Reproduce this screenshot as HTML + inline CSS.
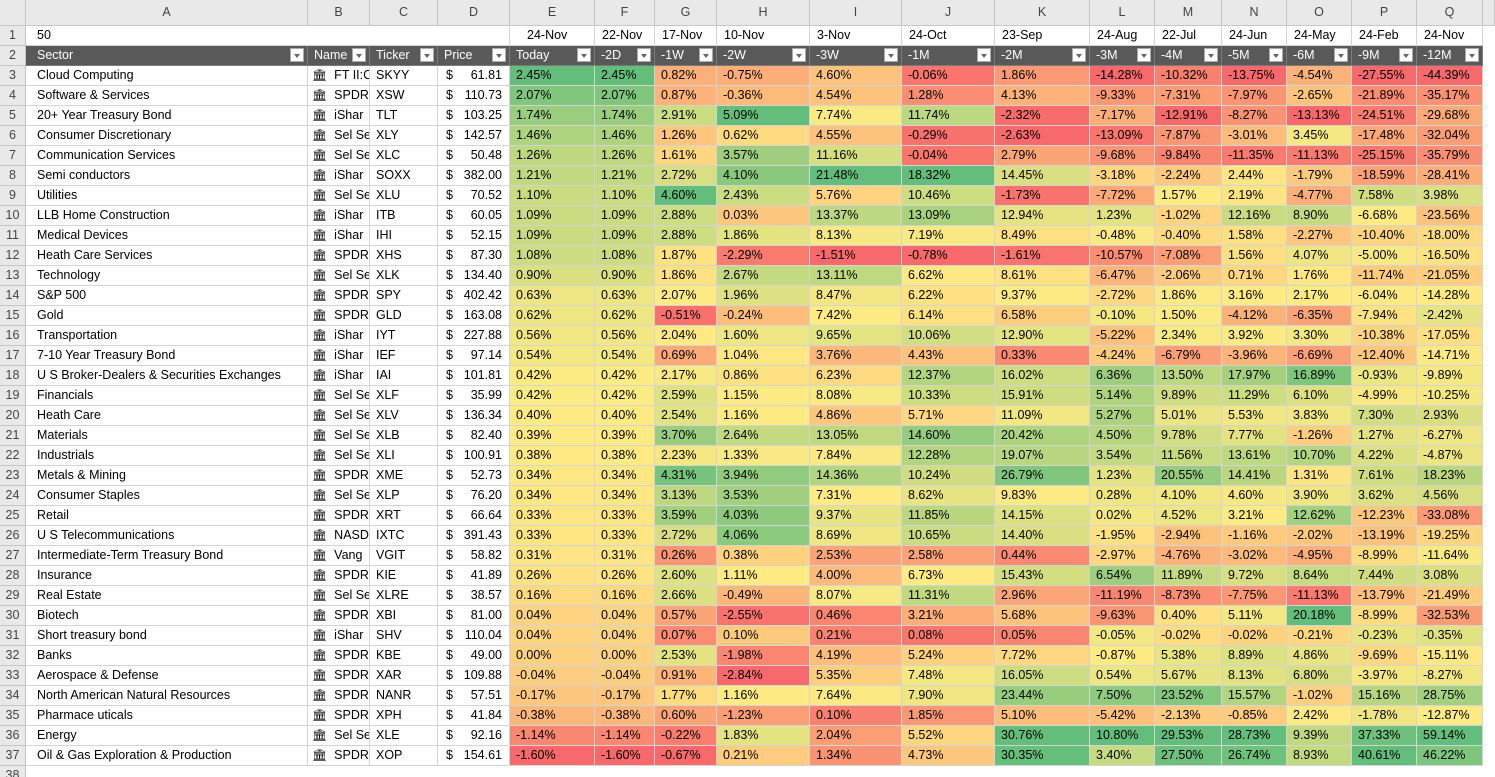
<!DOCTYPE html>
<html><head><meta charset="utf-8"><style>
html,body{margin:0;padding:0;background:#fff;width:1495px;height:777px;overflow:hidden;font-family:"Liberation Sans",Arial,sans-serif;}
#sheet{position:relative;width:1495px;height:777px;}
.c{position:absolute;box-sizing:border-box;border-right:1px solid #d4d4d4;border-bottom:1px solid #d4d4d4;font-size:12.5px;line-height:19px;white-space:nowrap;overflow:hidden;color:#000;padding:0 6px;}
.ch{background:#e9e9e9;color:#444;text-align:center;line-height:25px;font-size:12.5px;border-color:#c6c6c6;padding:0;}
.rh{background:#e9e9e9;color:#444;text-align:center;padding:0;border-color:#c6c6c6;}
.hd{background:#595959;color:#fff;border-color:#7a7a7a;}
.dd{position:absolute;right:3px;top:2px;width:14px;height:14px;background:#fff;border:1px solid #aaa;box-sizing:border-box;}
.dd:after{content:"";position:absolute;left:3px;top:5px;border-left:3.5px solid transparent;border-right:3.5px solid transparent;border-top:4px solid #666;}
</style></head><body>
<div id="sheet"></div>
<script>
const colLetters=["A","B","C","D","E","F","G","H","I","J","K","L","M","N","O","P","Q"];
const dates=["24-Nov","22-Nov","17-Nov","10-Nov","3-Nov","24-Oct","23-Sep","24-Aug","22-Jul","24-Jun","24-May","24-Feb","24-Nov"];
const headers=["Sector","Name","Ticker","Price","Today","-2D","-1W","-2W","-3W","-1M","-2M","-3M","-4M","-5M","-6M","-9M","-12M"];
const sectors=["Cloud Computing","Software & Services","20+ Year Treasury Bond","Consumer Discretionary","Communication Services","Semi conductors","Utilities","LLB Home Construction","Medical Devices","Heath Care Services","Technology","S&P 500","Gold","Transportation","7-10 Year Treasury Bond","U S Broker-Dealers & Securities Exchanges","Financials","Heath Care","Materials","Industrials","Metals & Mining","Consumer Staples","Retail","U S Telecommunications","Intermediate-Term Treasury Bond","Insurance","Real Estate","Biotech","Short treasury bond","Banks","Aerospace & Defense","North American Natural Resources","Pharmace uticals","Energy","Oil & Gas Exploration & Production"];
const names=["FT II:C","SPDR","iShar","Sel Se","Sel Se","iShar","Sel Se","iShar","iShar","SPDR","Sel Se","SPDR","SPDR","iShar","iShar","iShar","Sel Se","Sel Se","Sel Se","Sel Se","SPDR","Sel Se","SPDR","NASD","Vang","SPDR","Sel Se","SPDR","iShar","SPDR","SPDR","SPDR","SPDR","Sel Se","SPDR"];
const tickers=["SKYY","XSW","TLT","XLY","XLC","SOXX","XLU","ITB","IHI","XHS","XLK","SPY","GLD","IYT","IEF","IAI","XLF","XLV","XLB","XLI","XME","XLP","XRT","IXTC","VGIT","KIE","XLRE","XBI","SHV","KBE","XAR","NANR","XPH","XLE","XOP"];
const prices=[61.81,110.73,103.25,142.57,50.48,382.00,70.52,60.05,52.15,87.30,134.40,402.42,163.08,227.88,97.14,101.81,35.99,136.34,82.40,100.91,52.73,76.20,66.64,391.43,58.82,41.89,38.57,81.00,110.04,49.00,109.88,57.51,41.84,92.16,154.61];
const returns=[
[2.45,2.45,0.82,-0.75,4.60,-0.06,1.86,-14.28,-10.32,-13.75,-4.54,-27.55,-44.39],
[2.07,2.07,0.87,-0.36,4.54,1.28,4.13,-9.33,-7.31,-7.97,-2.65,-21.89,-35.17],
[1.74,1.74,2.91,5.09,7.74,11.74,-2.32,-7.17,-12.91,-8.27,-13.13,-24.51,-29.68],
[1.46,1.46,1.26,0.62,4.55,-0.29,-2.63,-13.09,-7.87,-3.01,3.45,-17.48,-32.04],
[1.26,1.26,1.61,3.57,11.16,-0.04,2.79,-9.68,-9.84,-11.35,-11.13,-25.15,-35.79],
[1.21,1.21,2.72,4.10,21.48,18.32,14.45,-3.18,-2.24,2.44,-1.79,-18.59,-28.41],
[1.10,1.10,4.60,2.43,5.76,10.46,-1.73,-7.72,1.57,2.19,-4.77,7.58,3.98],
[1.09,1.09,2.88,0.03,13.37,13.09,12.94,1.23,-1.02,12.16,8.90,-6.68,-23.56],
[1.09,1.09,2.88,1.86,8.13,7.19,8.49,-0.48,-0.40,1.58,-2.27,-10.40,-18.00],
[1.08,1.08,1.87,-2.29,-1.51,-0.78,-1.61,-10.57,-7.08,1.56,4.07,-5.00,-16.50],
[0.90,0.90,1.86,2.67,13.11,6.62,8.61,-6.47,-2.06,0.71,1.76,-11.74,-21.05],
[0.63,0.63,2.07,1.96,8.47,6.22,9.37,-2.72,1.86,3.16,2.17,-6.04,-14.28],
[0.62,0.62,-0.51,-0.24,7.42,6.14,6.58,-0.10,1.50,-4.12,-6.35,-7.94,-2.42],
[0.56,0.56,2.04,1.60,9.65,10.06,12.90,-5.22,2.34,3.92,3.30,-10.38,-17.05],
[0.54,0.54,0.69,1.04,3.76,4.43,0.33,-4.24,-6.79,-3.96,-6.69,-12.40,-14.71],
[0.42,0.42,2.17,0.86,6.23,12.37,16.02,6.36,13.50,17.97,16.89,-0.93,-9.89],
[0.42,0.42,2.59,1.15,8.08,10.33,15.91,5.14,9.89,11.29,6.10,-4.99,-10.25],
[0.40,0.40,2.54,1.16,4.86,5.71,11.09,5.27,5.01,5.53,3.83,7.30,2.93],
[0.39,0.39,3.70,2.64,13.05,14.60,20.42,4.50,9.78,7.77,-1.26,1.27,-6.27],
[0.38,0.38,2.23,1.33,7.84,12.28,19.07,3.54,11.56,13.61,10.70,4.22,-4.87],
[0.34,0.34,4.31,3.94,14.36,10.24,26.79,1.23,20.55,14.41,1.31,7.61,18.23],
[0.34,0.34,3.13,3.53,7.31,8.62,9.83,0.28,4.10,4.60,3.90,3.62,4.56],
[0.33,0.33,3.59,4.03,9.37,11.85,14.15,0.02,4.52,3.21,12.62,-12.23,-33.08],
[0.33,0.33,2.72,4.06,8.69,10.65,14.40,-1.95,-2.94,-1.16,-2.02,-13.19,-19.25],
[0.31,0.31,0.26,0.38,2.53,2.58,0.44,-2.97,-4.76,-3.02,-4.95,-8.99,-11.64],
[0.26,0.26,2.60,1.11,4.00,6.73,15.43,6.54,11.89,9.72,8.64,7.44,3.08],
[0.16,0.16,2.66,-0.49,8.07,11.31,2.96,-11.19,-8.73,-7.75,-11.13,-13.79,-21.49],
[0.04,0.04,0.57,-2.55,0.46,3.21,5.68,-9.63,0.40,5.11,20.18,-8.99,-32.53],
[0.04,0.04,0.07,0.10,0.21,0.08,0.05,-0.05,-0.02,-0.02,-0.21,-0.23,-0.35],
[0.00,0.00,2.53,-1.98,4.19,5.24,7.72,-0.87,5.38,8.89,4.86,-9.69,-15.11],
[-0.04,-0.04,0.91,-2.84,5.35,7.48,16.05,0.54,5.67,8.13,6.80,-3.97,-8.27],
[-0.17,-0.17,1.77,1.16,7.64,7.90,23.44,7.50,23.52,15.57,-1.02,15.16,28.75],
[-0.38,-0.38,0.60,-1.23,0.10,1.85,5.10,-5.42,-2.13,-0.85,2.42,-1.78,-12.87],
[-1.14,-1.14,-0.22,1.83,2.04,5.52,30.76,10.80,29.53,28.73,9.39,37.33,59.14],
[-1.60,-1.60,-0.67,0.21,1.34,4.73,30.35,3.40,27.50,26.74,8.93,40.61,46.22]
];
const colX=[26,308,370,438,510,595,655,717,810,902,995,1090,1155,1222,1287,1352,1417,1483];
const sheet=document.getElementById('sheet');
function cell(x,y,w,h,cls,txt,name){const d=document.createElement('div');d.className='c '+cls;


d.style.left=x+'px';d.style.top=y+'px';d.style.width=w+'px';d.style.height=h+'px';if(txt!==null)d.textContent=txt;sheet.appendChild(d);return d;}
const rowY=r=>26+(r-1)*20;
cell(0,0,26,26,'ch','','select-all-corner');
colLetters.forEach((L,i)=>cell(colX[i],0,colX[i+1]-colX[i],26,'ch',L,'column-header-'+L));
cell(1483,0,12,26,'ch','','column-header-extra');
for(let r=1;r<=38;r++){const d=cell(0,rowY(r),26,20,'rh',String(r),'row-header-'+r);d.style.lineHeight='19px';}
const c1=cell(colX[0],rowY(1),colX[4]-colX[0],20,'', '50','count-cell');c1.style.paddingLeft='11px';
dates.forEach((t,i)=>{const d=cell(colX[i+4],rowY(1),colX[i+5]-colX[i+4],20,'',t,'date-'+colLetters[i+4]);d.style.paddingLeft=(i==0?'17px':'7px');});
headers.forEach((t,i)=>{const d=cell(colX[i],rowY(2),colX[i+1]-colX[i],20,'hd',t,'header-'+t.toLowerCase().replace(/[^a-z0-9]+/g,''));
if(i==0)d.style.paddingLeft='11px';
const b=document.createElement('div');b.className='dd';


d.appendChild(b);});
function lerp(a,b,t){return a.map((v,i)=>Math.round(v+(b[i]-v)*t));}
const RED=[248,105,107],YEL=[255,235,132],GRN=[99,190,123];
function scale(col){const vals=returns.map(r=>r[col]);const s=[...vals].sort((a,b)=>a-b);const mn=s[0],mx=s[s.length-1];const md=s[Math.floor(s.length/2)];
return v=>{let c;if(v<=md){c=lerp(RED,YEL,md===mn?1:(v-mn)/(md-mn));}else{c=lerp(YEL,GRN,(v-md)/(mx-md));}return 'rgb('+c.join(',')+')';};}
const scales=dates.map((_,i)=>scale(i));
sectors.forEach((s,k)=>{const r=k+3,y=rowY(r);
const a=cell(colX[0],y,colX[1]-colX[0],20,'',s,'sector-'+r);a.style.paddingLeft='11px';
const n=cell(colX[1],y,colX[2]-colX[1],20,'','','name-'+r);n.style.paddingLeft='4px';n.innerHTML='<span style="font-size:12px">&#127963;</span>&nbsp; '+names[k];
cell(colX[2],y,colX[3]-colX[2],20,'',tickers[k],'ticker-'+r);
const p=cell(colX[3],y,colX[4]-colX[3],20,'','','price-'+r);p.style.paddingRight='7px';p.innerHTML='<span style="float:left;padding-left:2px">$</span><span style="float:right">'+prices[k].toFixed(2)+'</span>';
returns[k].forEach((v,i)=>{const d=cell(colX[i+4],y,colX[i+5]-colX[i+4],20,'',v.toFixed(2)+'%','return-'+colLetters[i+4]+r);d.style.background=scales[i](v);});
});
</script>
</body></html>
